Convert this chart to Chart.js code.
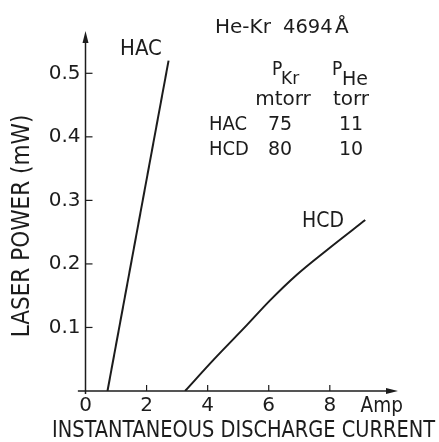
<!DOCTYPE html>
<html>
<head>
<meta charset="utf-8">
<script src="https://cdn.jsdelivr.net/npm/chart.js@4.4.1/dist/chart.umd.min.js"></script>
<style>
  html, body { margin: 0; padding: 0; background: #fff; }
  #wrap { width: 439px; height: 442px; }
</style>
</head>
<body>
<div id="wrap"><canvas id="laserChart" width="439" height="442"></canvas></div>
<script>
// dados (corrente em A, potência em mW)
const hacCurrent = [0.72, 2.72];
const hacPower = [0, 0.52];
const hcdCurrent = [3.26, 4.19, 5.29, 6.05, 6.92, 7.91, 9.16];
const hcdPower = [0, 0.049, 0.104, 0.143, 0.183, 0.222, 0.269];

const xTicks = [0, 2, 4, 6, 8];
const yTicks = [0.1, 0.2, 0.3, 0.4, 0.5];

// tabela de pressões
const tableRows = ["HAC", "HCD"];
const pKr = ["75", "80"];
const pHe = ["11", "10"];

const INK = "#1c1c1c";
const NUM_FONT = '"DejaVu Sans", sans-serif';
const TXT_FONT = '"DejaVu Sans Condensed", "DejaVu Sans", sans-serif';

function toPoints(xs, ys) {
  return xs.map((x, i) => ({ x: x, y: ys[i] }));
}

// texto ajustado a uma largura (fonte condensada do original)
function fitText(ctx, text, cx, cy, width) {
  const w = ctx.measureText(text).width;
  ctx.save();
  ctx.translate(cx, cy);
  ctx.scale(width / w, 1);
  ctx.fillText(text, 0, 0);
  ctx.restore();
}

// eixos com setas, ticks internos e anotações
const decorPlugin = {
  id: "decor",
  afterDraw(chart) {
    const ctx = chart.ctx;
    const xs = chart.scales.x;
    const ys = chart.scales.y;
    const x0 = xs.getPixelForValue(0);
    const y0 = ys.getPixelForValue(0);
    const xEnd = xs.getPixelForValue(xs.max);
    const yTop = ys.getPixelForValue(ys.max);

    ctx.save();
    ctx.strokeStyle = INK;
    ctx.fillStyle = INK;
    ctx.lineWidth = 1.5;

    // eixo y
    ctx.beginPath();
    ctx.moveTo(x0, y0 + 3);
    ctx.lineTo(x0, yTop + 6);
    ctx.stroke();
    ctx.beginPath();
    ctx.moveTo(x0, yTop - 1);
    ctx.lineTo(x0 - 3, yTop + 11);
    ctx.lineTo(x0 + 3, yTop + 11);
    ctx.closePath();
    ctx.fill();

    // eixo x
    ctx.beginPath();
    ctx.moveTo(xs.getPixelForValue(-0.25), y0);
    ctx.lineTo(xEnd - 6, y0);
    ctx.stroke();
    ctx.beginPath();
    ctx.moveTo(xEnd + 1, y0);
    ctx.lineTo(xEnd - 11, y0 - 3);
    ctx.lineTo(xEnd - 11, y0 + 3);
    ctx.closePath();
    ctx.fill();

    // ticks internos
    ctx.lineWidth = 1.2;
    yTicks.forEach(v => {
      const py = ys.getPixelForValue(v);
      ctx.beginPath();
      ctx.moveTo(x0, py);
      ctx.lineTo(x0 + 7, py);
      ctx.stroke();
    });
    xTicks.forEach(v => {
      if (v === 0) return;
      const px = xs.getPixelForValue(v);
      ctx.beginPath();
      ctx.moveTo(px, y0);
      ctx.lineTo(px, y0 - 6);
      ctx.stroke();
    });

    // unidade do eixo x
    ctx.font = "20.5px " + TXT_FONT;
    ctx.textAlign = "center";
    ctx.textBaseline = "alphabetic";
    ctx.fillText("Amp", xs.getPixelForValue(9.7), 412);

    // título do eixo x
    ctx.font = "22.5px " + TXT_FONT;
    fitText(ctx, "INSTANTANEOUS DISCHARGE CURRENT", 243.5, 437, 383);

    // título do eixo y
    ctx.save();
    ctx.translate(23, 226);
    ctx.rotate(-Math.PI / 2);
    ctx.font = "24px " + TXT_FONT;
    ctx.textAlign = "center";
    ctx.textBaseline = "middle";
    ctx.fillText("LASER POWER (mW)", 0, 0);
    ctx.restore();

    // rótulos das curvas
    ctx.textAlign = "left";
    ctx.font = "22px " + TXT_FONT;
    ctx.fillText("HAC", 120, 55);
    ctx.font = "21px " + TXT_FONT;
    ctx.fillText("HCD", 302, 227);

    // bloco de texto superior direito
    ctx.font = "20px " + NUM_FONT;
    ctx.fillText("He-Kr", 215, 33);
    ctx.font = "19.5px " + NUM_FONT;
    ctx.fillText("4694", 283, 33);
    ctx.font = "20px " + NUM_FONT;
    ctx.fillText("Å", 335, 33);

    ctx.font = "19px " + TXT_FONT;
    ctx.fillText("P", 272, 75);
    ctx.fillText("P", 332, 75);
    ctx.font = "17px " + NUM_FONT;
    ctx.fillText("Kr", 281, 84);
    ctx.font = "19px " + NUM_FONT;
    ctx.fillText("He", 342, 85);

    ctx.font = "20px " + NUM_FONT;
    ctx.textAlign = "center";
    ctx.fillText("mtorr", 283, 105);
    ctx.fillText("torr", 351, 105);

    tableRows.forEach((row, i) => {
      const by = 130 + i * 25;
      ctx.font = "20px " + TXT_FONT;
      ctx.textAlign = "left";
      ctx.fillText(row, 209, by);
      ctx.font = "19px " + NUM_FONT;
      ctx.textAlign = "center";
      ctx.fillText(pKr[i], 280, by);
      ctx.fillText(pHe[i], 351, by);
    });

    ctx.restore();
  }
};

const ctx = document.getElementById("laserChart").getContext("2d");
const laserChart = new Chart(ctx, {
  type: "line",
  data: {
    datasets: [
      {
        label: "HAC",
        data: toPoints(hacCurrent, hacPower),
        borderColor: INK,
        borderWidth: 2,
        pointRadius: 0,
        fill: false
      },
      {
        label: "HCD",
        data: toPoints(hcdCurrent, hcdPower),
        borderColor: INK,
        borderWidth: 2,
        pointRadius: 0,
        cubicInterpolationMode: "monotone",
        fill: false
      }
    ]
  },
  options: {
    responsive: false,
    animation: false,
    layout: { padding: { left: 0, top: 32, right: 42, bottom: 0 } },
    plugins: {
      legend: { display: false },
      tooltip: { enabled: false }
    },
    scales: {
      x: {
        type: "linear",
        min: 0,
        max: 10.2,
        afterBuildTicks: function (scale) {
          scale.ticks = xTicks.map(v => ({ value: v }));
        },
        afterFit: function (scale) {
          scale.height = 51;
        },
        grid: { display: false, drawTicks: false },
        border: { display: false },
        ticks: {
          color: INK,
          font: { family: NUM_FONT, size: 20 },
          padding: 3,
          maxRotation: 0,
          callback: function (value) {
            return String(value);
          }
        }
      },
      y: {
        type: "linear",
        min: 0,
        max: 0.565,
        afterBuildTicks: function (scale) {
          scale.ticks = yTicks.map(v => ({ value: v }));
        },
        afterFit: function (scale) {
          scale.width = 85.5;
        },
        grid: { display: false, drawTicks: false },
        border: { display: false },
        ticks: {
          color: INK,
          font: { family: NUM_FONT, size: 20 },
          padding: 5,
          callback: function (value) {
            return value.toFixed(1);
          }
        }
      }
    }
  },
  plugins: [decorPlugin]
});
</script>
</body>
</html>
